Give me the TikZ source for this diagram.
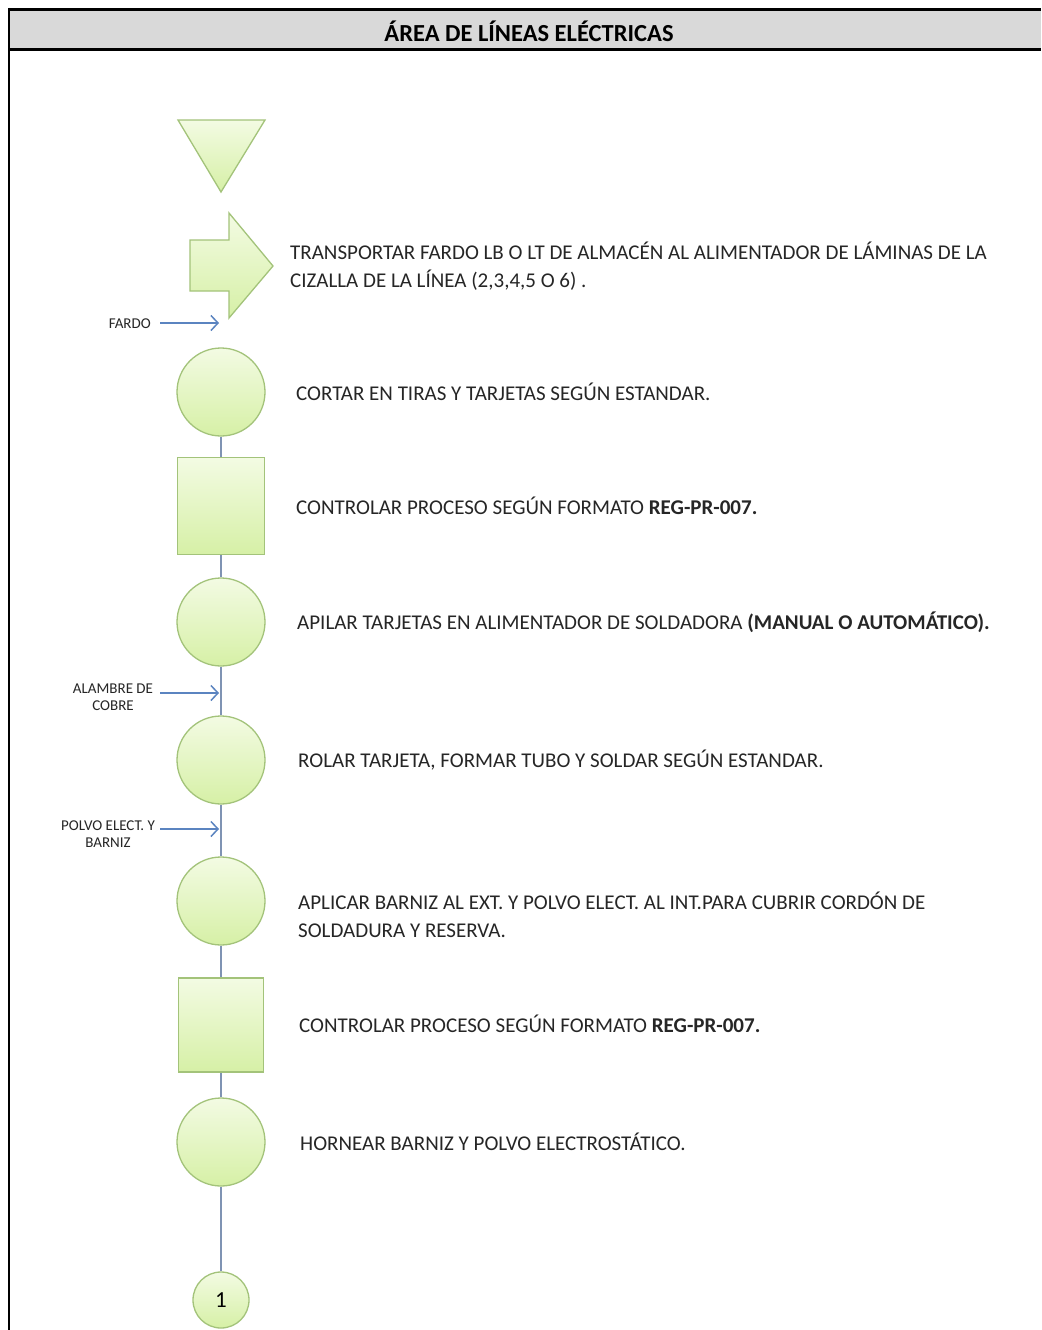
\documentclass[tikz,border=0pt]{standalone}
\usepackage{fontspec}
\setmainfont{Carlito}
\usetikzlibrary{arrows.meta}
\definecolor{hdrgray}{HTML}{D9D9D9}
\definecolor{shtop}{HTML}{F3FBE3}
\definecolor{shbot}{HTML}{D6F0A6}
\definecolor{shborder}{HTML}{A3C37A}
\definecolor{flowline}{HTML}{7F93B3}
\definecolor{inarrow}{HTML}{5B84C0}
\definecolor{txt}{HTML}{262626}
\pgfdeclarelayer{bg}
\pgfsetlayers{bg,main}
\tikzset{
  shp/.style={draw=shborder, line width=1.3pt, top color=shtop, bottom color=shbot},
  opcirc/.style={shp, circle, minimum size=88pt, inner sep=0pt},
  inspbox/.style={shp, rectangle, minimum width=87pt, minimum height=97pt, inner sep=0pt},
  steptext/.style={anchor=base west, text=txt, font=\fontsize{21}{27.5}\selectfont, align=left, inner sep=0pt},
  sidelabel/.style={text=txt, font=\fontsize{15}{17}\selectfont, align=center, inner sep=0pt},
  feed/.style={draw=inarrow, line width=1.5pt, -{Straight Barb[length=7pt,width=15pt,line width=1.5pt]}},
  flow/.style={draw=flowline, line width=2pt}
}
\begin{document}
\begin{tikzpicture}[x=1pt,y=-1pt]
\useasboundingbox (0,0) rectangle (1041,1330);
\fill[white] (0,0) rectangle (1041,1330);
% header
\fill[hdrgray] (9,10) rectangle (1041,49);
\draw[line width=3pt] (8,9.5) -- (1041,9.5);
\draw[line width=3pt] (8,49.5) -- (1041,49.5);
\draw[line width=2pt] (9,8) -- (9,1330);
\node[font=\bfseries\fontsize{24.5}{26}\selectfont, text=black] (title) at (529,31) {ÁREA DE LÍNEAS ELÉCTRICAS};

% storage triangle
\coordinate (triapex) at (221,192);
\draw[shp] (178,120) -- (265,120) -- (triapex) -- cycle;

% operations and inspections
\node[opcirc] (c1) at (221,392) {};
\node[inspbox] (s1) at (221,506) {};
\node[opcirc] (c2) at (221,622) {};
\node[opcirc] (c3) at (221,760) {};
\node[opcirc] (c4) at (221,901) {};
\node[inspbox, minimum width=85pt, minimum height=94pt] (s2) at (221,1025) {};
\node[opcirc] (c5) at (221,1142) {};
\node[shp, circle, minimum size=56pt, inner sep=0pt, font=\fontsize{23}{24}\selectfont, text=black] (conn) at (221,1300) {1};

% flow line
\begin{pgfonlayer}{bg}
\draw[flow] (triapex) -- (c1.north);
\end{pgfonlayer}
\draw[flow] (c1.south) -- (s1.north);
\draw[flow] (s1.south) -- (c2.north);
\draw[flow] (c2.south) -- (c3.north);
\draw[flow] (c3.south) -- (c4.north);
\draw[flow] (c4.south) -- (s2.north);
\draw[flow] (s2.south) -- (c5.north);
\draw[flow] (c5.south) -- (conn.north);

% transport arrow
\coordinate (trtip) at (273,266);
\draw[shp] (190,240) -- (229,240) -- (229,213) -- (trtip) -- (229,318) -- (229,291) -- (190,291) -- cycle;

% side inputs
\coordinate (fardoS) at (160,323);
\coordinate (fardoE) at (219,323);
\draw[feed] (fardoS) -- (fardoE);
\node[sidelabel, anchor=east] (fardoL) at (151,324) {FARDO};

\coordinate (alamS) at (160,693);
\coordinate (alamE) at (219,693);
\draw[feed] (alamS) -- (alamE);
\node[sidelabel] (alamL) at (113,697) {ALAMBRE DE\\COBRE};

\coordinate (polvS) at (160,829);
\coordinate (polvE) at (219,829);
\draw[feed] (polvS) -- (polvE);
\node[sidelabel] (polvL) at (108,834) {POLVO ELECT. Y\\BARNIZ};

% step texts (base = last line)
\node[steptext] (t0) at (290,287) {TRANSPORTAR FARDO LB O LT DE ALMACÉN AL ALIMENTADOR DE LÁMINAS DE LA\\CIZALLA DE LA LÍNEA (2,3,4,5 O 6) .};
\node[steptext] (t1) at (296,400) {CORTAR EN TIRAS Y TARJETAS SEGÚN ESTANDAR.};
\node[steptext] (t2) at (296,514) {CONTROLAR PROCESO SEGÚN FORMATO \textbf{REG-PR-007.}};
\node[steptext] (t3) at (297,629) {APILAR TARJETAS EN ALIMENTADOR DE SOLDADORA \textbf{(MANUAL O AUTOMÁTICO).}};
\node[steptext] (t4) at (298,767) {ROLAR TARJETA, FORMAR TUBO Y SOLDAR SEGÚN ESTANDAR.};
\node[steptext] (t5) at (298,937) {APLICAR BARNIZ AL EXT. Y POLVO ELECT. AL INT.PARA CUBRIR CORDÓN DE\\SOLDADURA Y RESERVA.};
\node[steptext] (t6) at (299,1032) {CONTROLAR PROCESO SEGÚN FORMATO \textbf{REG-PR-007.}};
\node[steptext] (t7) at (300,1150) {HORNEAR BARNIZ Y POLVO ELECTROSTÁTICO.};
\end{tikzpicture}
\end{document}
